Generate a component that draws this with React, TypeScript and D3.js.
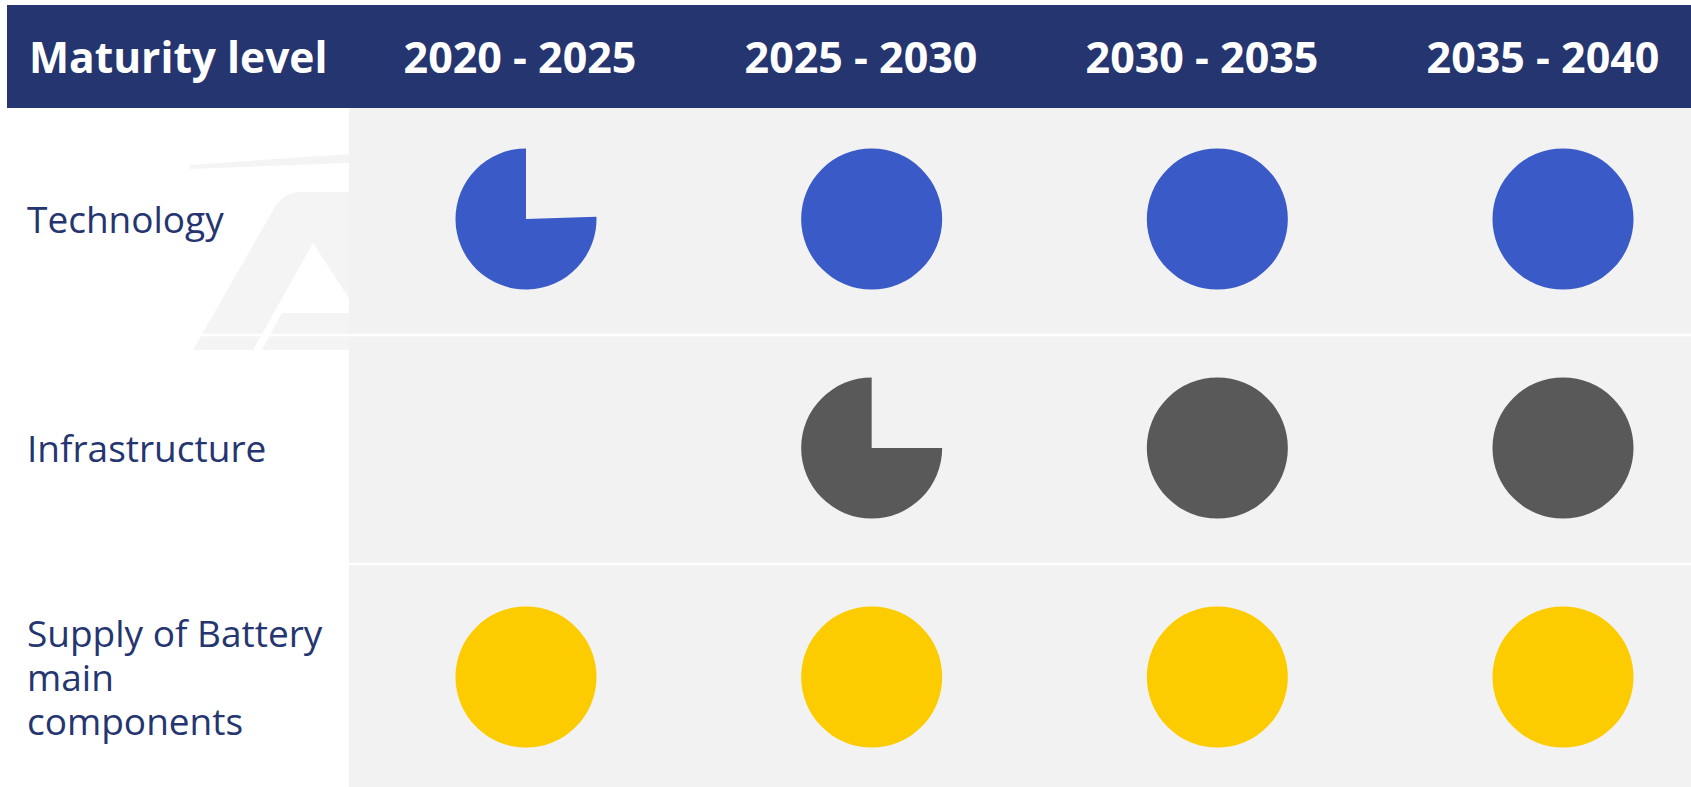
import * as React from 'react';
import * as d3 from 'd3';

// period columns and maturity rows
const periods = ['2020 - 2025', '2025 - 2030', '2030 - 2035', '2035 - 2040'];
const rowNames = ['Technology', 'Infrastructure', 'Supply of Battery main components'];
const rowLabelLines = [['Technology'], ['Infrastructure'], ['Supply of Battery', 'main', 'components']];

// share of the circle that is filled (1 = fully mature)
const technology = [0.755, 1, 1, 1];
const infrastructure = [0, 0.75, 1, 1];
const supplyOfBattery = [1, 1, 1, 1];

const seriesColors = ['#3A5AC8', '#595959', '#FCCC00'];

const WIDTH = 1691;
const HEIGHT = 787;
const NAVY = '#25356F';
const PANEL = '#F2F2F2';

export default function App() {
  const series = [technology, infrastructure, supplyOfBattery];

  const x = d3.scalePoint<string>().domain(periods).range([526, 1563]);
  const xHeader = d3.scalePoint<string>().domain(periods).range([520, 1543]);
  const y = d3.scalePoint<string>().domain(rowNames).range([219, 677]);
  const radius = 70.5;

  const arc = d3.arc<any>().innerRadius(0).outerRadius(radius);

  const separators = rowNames.slice(1).map((r, i) => ((y(rowNames[i]) ?? 0) + (y(r) ?? 0)) / 2 + 1.5);

  return (
    <svg
      width={WIDTH}
      height={HEIGHT}
      style={{ position: 'absolute', left: 0, top: 0, display: 'block' }}
      fontFamily="'Open Sans', 'Noto Sans', sans-serif"
    >
      <rect x={0} y={0} width={WIDTH} height={HEIGHT} fill="#ffffff" />

      {/* faint logo watermark behind the row labels */}
      <g fill="#F4F4F4">
        <path d="M190,165 L350,154 L350,163 L190,169 Z" />
        <path d="M193,350 L276,205 Q286,192 300,192 L350,192 L350,300 L313,243 L253,350 Z" />
        <path d="M282,313 L350,313 L350,350 L262,350 Z" />
      </g>

      {/* grey panel */}
      <rect x={349} y={108} width={WIDTH - 349} height={HEIGHT - 108} fill={PANEL} />

      {separators.map((sy, i) => (
        <line key={i} x1={190} x2={WIDTH} y1={sy} y2={sy} stroke="#ffffff" strokeWidth={2.5} />
      ))}

      {/* header bar */}
      <rect x={7} y={5} width={WIDTH - 7} height={103} fill={NAVY} />
      <text x={29} y={72.5} fill="#ffffff" fontSize={42.5} fontWeight={700}>
        Maturity level
      </text>
      {periods.map((p) => (
        <text key={p} x={xHeader(p)} y={72.5} fill="#ffffff" fontSize={43} fontWeight={700} textAnchor="middle">
          {p}
        </text>
      ))}

      {/* row labels */}
      {rowNames.map((r, i) => {
        const lines = rowLabelLines[i];
        const cy = y(r) ?? 0;
        return (
          <text key={r} x={27} fill={NAVY} fontSize={37}>
            {lines.map((ln, j) => (
              <tspan key={j} x={27} y={cy + 14 + (j - (lines.length - 1) / 2) * 44}>
                {ln}
              </tspan>
            ))}
          </text>
        );
      })}

      {/* maturity pies */}
      {series.map((vals, i) =>
        vals.map((v, j) => {
          if (v <= 0) return null;
          const d =
            v >= 1
              ? arc({ startAngle: 0, endAngle: 2 * Math.PI })
              : arc({ startAngle: (1 - v) * 2 * Math.PI, endAngle: 2 * Math.PI });
          return (
            <path
              key={`${i}-${j}`}
              d={d ?? ''}
              transform={`translate(${x(periods[j])},${y(rowNames[i])})`}
              fill={seriesColors[i]}
            />
          );
        })
      )}
    </svg>
  );
}
